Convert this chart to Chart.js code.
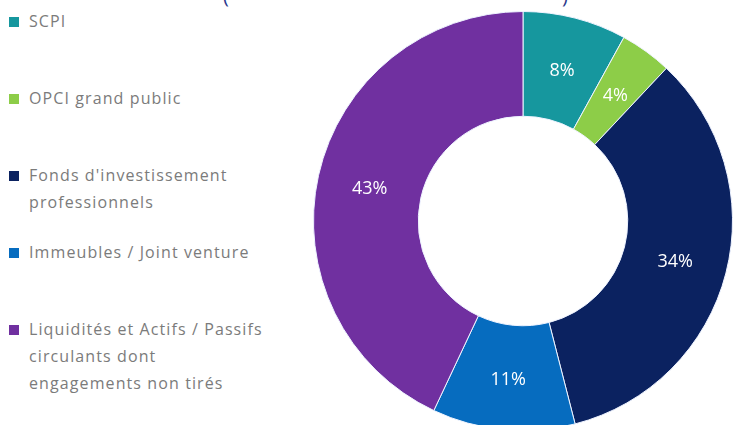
<!DOCTYPE html>
<html>
<head>
<meta charset="utf-8">
<script src="https://cdn.jsdelivr.net/npm/chart.js@4"></script>
<style>
  html, body { margin:0; padding:0; width:734px; height:425px; overflow:hidden; background:#ffffff; }
  #wrap { position:relative; width:734px; height:425px; }
  #chartBox { position:absolute; left:313px; top:11px; width:420px; height:420px; }
  #legend { position:absolute; left:0; top:8px; width:310px; font-family:"Open Sans", sans-serif; font-size:16px; letter-spacing:1.1px; color:#7b7b7b; }
  .item { position:relative; height:77px; padding-left:29px; line-height:27px; box-sizing:border-box; white-space:nowrap; }
  .item .sw { position:absolute; left:9px; top:9px; width:10px; height:10px; }
  #topText { position:absolute; top:-18px; left:0; width:734px; font-family:"Open Sans", sans-serif; font-size:20px; color:#2b3a8c; }
  #topText span { position:absolute; }
</style>
</head>
<body>
<div id="wrap">
  <div id="topText"><span style="left:223px">(</span><span style="left:562px">)</span></div>
  <div id="legend"></div>
  <div id="chartBox"><canvas id="c"></canvas></div>
</div>
<script>
const categories = [
  ["SCPI"],
  ["OPCI grand public"],
  ["Fonds d'investissement", "professionnels"],
  ["Immeubles / Joint venture"],
  ["Liquidités et Actifs / Passifs", "circulants dont", "engagements non tirés"]
];
const shares = [8, 4, 34, 11, 43];
const valueLabels = ["8%", "4%", "34%", "11%", "43%"];
const colors = ["#16979e", "#8dcd48", "#0b2260", "#066cbf", "#7030a0"];

// HTML legend built from the data arrays
const legend = document.getElementById('legend');
categories.forEach((lines, i) => {
  const d = document.createElement('div');
  d.className = 'item';
  const sw = document.createElement('span');
  sw.className = 'sw';
  sw.style.background = colors[i];
  d.appendChild(sw);
  lines.forEach(t => {
    const l = document.createElement('div');
    l.textContent = t;
    d.appendChild(l);
  });
  legend.appendChild(d);
});

const labelPlugin = {
  id: 'sliceLabels',
  afterDatasetsDraw(chart) {
    const ctx = chart.ctx;
    const meta = chart.getDatasetMeta(0);
    ctx.save();
    ctx.fillStyle = '#ffffff';
    ctx.font = '400 18px "Open Sans", sans-serif';
    ctx.textAlign = 'center';
    ctx.textBaseline = 'middle';
    meta.data.forEach((arc, i) => {
      const p = arc.tooltipPosition();
      ctx.fillText(valueLabels[i], p.x, p.y + 2);
    });
    ctx.restore();
  }
};

new Chart(document.getElementById('c'), {
  type: 'doughnut',
  data: {
    labels: categories.map(l => l.join(' ')),
    datasets: [{
      data: shares,
      backgroundColor: colors,
      borderColor: '#eef3ff',
      borderWidth: 1
    }]
  },
  options: {
    responsive: true,
    maintainAspectRatio: false,
    animation: false,
    cutout: '50%',
    layout: { padding: 0 },
    plugins: { legend: { display: false }, tooltip: { enabled: false } }
  },
  plugins: [labelPlugin]
});
</script>
</body>
</html>
